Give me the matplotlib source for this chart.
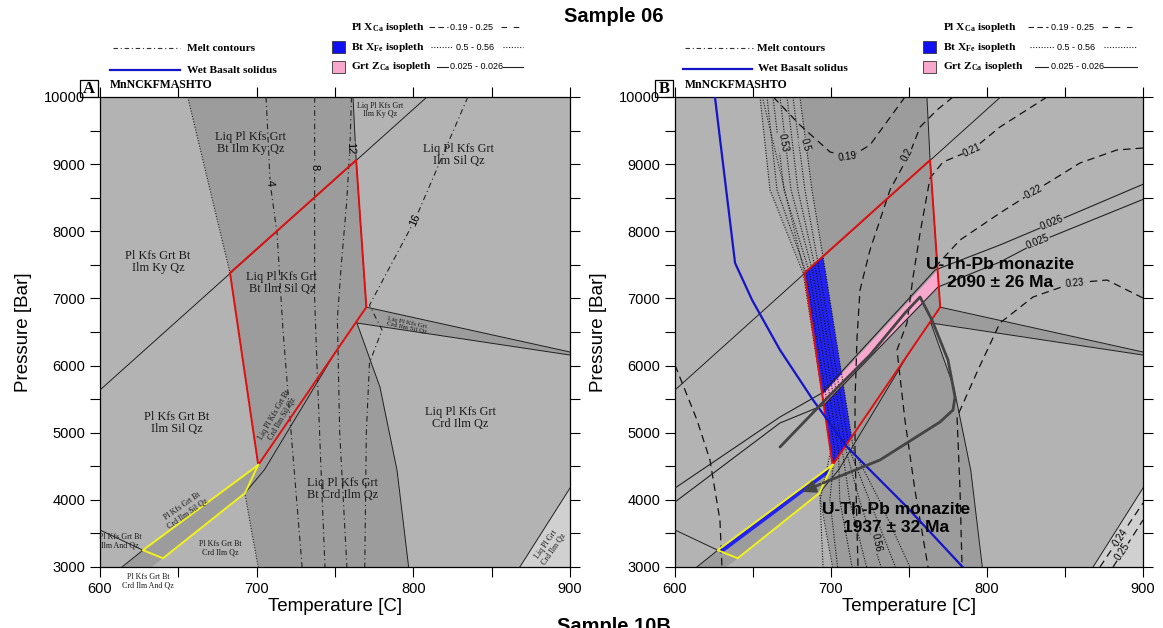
import numpy as np
import matplotlib
matplotlib.use("Agg")
import matplotlib.pyplot as plt
from matplotlib.patches import Rectangle

plt.rcParams['font.family'] = ['Liberation Sans', 'DejaVu Sans']
plt.rcParams['mathtext.fontset'] = 'custom'
plt.rcParams['mathtext.rm'] = 'Liberation Serif:bold'
plt.rcParams['mathtext.it'] = 'Liberation Serif:bold'
plt.rcParams['mathtext.bf'] = 'Liberation Serif:bold'
SERIF = ['Liberation Serif', 'DejaVu Serif']

LIGHT = '#b3b3b3'
DARK = '#9c9c9c'
LIGHTER = '#d0d0d0'
BTBAND = '#a9a9a9'

t_ticks = [600, 700, 800, 900]
p_ticks = [3000, 4000, 5000, 6000, 7000, 8000, 9000, 10000]

# phase boundaries (T in C, P in bar)
solidus_T = [656, 683, 701, 692.5, 697, 701]
solidus_P = [10000, 7380, 4520, 4100, 3506, 3000]
btout_T = [761.5, 763.5, 770]
btout_P = [10000, 9060, 6870]
btout_lo_T = [764, 778.7, 789.6, 797]
btout_lo_P = [6634, 5680, 4440, 3000]
kysil_T = [600, 808.7]
kysil_P = [5636, 10000]
sliver_top_T = [770, 900]
sliver_top_P = [6870, 6202]
sliver_bot_T = [764, 900]
sliver_bot_P = [6634, 6157]
crdout_T = [868, 900]
crdout_P = [3000, 4176]
andsil_T = [600, 627.4, 614]
andsil_P = [3551, 3250, 3000]
crdmelt_T = [692.5, 705, 750]
crdmelt_P = [4100, 4450, 6189]
andcrd_T = [614, 627.4, 640.2, 633]
andcrd_P = [3000, 3250, 3130, 3000]

red_T = [683, 763.5, 770, 701, 683]
red_P = [7380, 9060, 6870, 4520, 7380]
yellow_T = [701, 627.4, 640.2, 692.5, 701]
yellow_P = [4520, 3250, 3130, 4100, 4520]

# melt contours (panel A)
melt_levels = ['4', '8', '12', '16']
melt_T = [[706, 708.6, 713, 716.8, 722, 729],
          [737, 737, 738.5, 741, 743.6],
          [760.5, 759.5, 757.5, 754, 751.5, 753, 757.6],
          [834.8, 801, 772, 780, 772, 770, 769]]
melt_P = [[10000, 8719, 7975, 6530, 5000, 3000],
          [10000, 7000, 6000, 4500, 3000],
          [10000, 9240, 8450, 7500, 6700, 5000, 3000],
          [10000, 8168, 6900, 6530, 6038, 5000, 3000]]
melt_lab_T = [708.5, 737, 759.6, 801]
melt_lab_P = [8719, 8958, 9240, 8168]
melt_lab_rot = [-87, -90, -88, 66]
melt_lab_bg = [DARK, DARK, DARK, LIGHT]

# field labels panel A: text, T, P, size, rotation
fields_A = [
    ('Liq Pl Kfs Grt\nBt Ilm Ky Qz', 696, 9315, 8.8, 0),
    ('Pl Kfs Grt Bt\nIlm Ky Qz', 637, 7540, 8.8, 0),
    ('Liq Pl Kfs Grt\nBt Ilm Sil Qz', 716, 7230, 8.8, 0),
    ('Liq Pl Kfs Grt\nIlm Sil Qz', 829, 9136, 8.8, 0),
    ('Liq Pl Kfs Grt\nIlm Ky Qz', 779, 9806, 5.8, 0),
    ('Liq Pl Kfs Grt\nCrd Ilm Sil Qz', 796, 6609, 5, -12),
    ('Pl Kfs Grt Bt\nIlm Sil Qz', 649, 5144, 8.8, 0),
    ('Liq Pl Kfs Grt Bt\nCrd Ilm Sil Qz', 713.6, 5234, 5.8, 60),
    ('Liq Pl Kfs Grt\nBt Crd Ilm Qz', 755, 4162, 8.8, 0),
    ('Liq Pl Kfs Grt\nCrd Ilm Qz', 830, 5220, 8.8, 0),
    ('Pl Kfs Grt Bt\nCrd Ilm Sil Qz', 654.2, 3849, 5.8, 35),
    ('Pl Kfs Grt Bt\nCrd Ilm Qz', 676.6, 3283, 5.8, 0),
    ('Pl Kfs Grt Bt\nIlm And Qz', 612.8, 3387, 5.8, 0),
    ('Pl Kfs Grt Bt\nCrd Ilm And Qz', 630.6, 2791, 5.8, 0),
    ('Liq Pl Grt\nCrd Ilm Qz', 887.2, 3297, 5.8, 55),
]

# panel B
wet_T = [625.6, 638.5, 649.4, 667.3, 688.5, 710.3, 747.4, 784.4]
wet_P = [10000, 7528, 6977, 6232, 5487, 4787, 3923, 3000]

bt_P = [10000, 8615, 7379, 4742, 4000, 3000]
bt_T = [[654.5, 660.9, 682.1, 700.0, 693.0, 694.9],
        [659.0, 665.4, 684.2, 702.4, 699.3, 704.2],
        [662.8, 669.9, 686.3, 704.8, 705.6, 713.5],
        [667.3, 674.4, 688.5, 707.2, 711.9, 722.8],
        [671.8, 678.8, 690.6, 709.6, 718.2, 732.1],
        [675.6, 683.3, 692.8, 712.0, 724.5, 741.3],
        [680.1, 687.8, 696.6, 714.5, 730.8, 750.6]]
bt_labels = [('0.53', 669.2, 9315, -80, BTBAND),
             ('0.5', 683.3, 9285, -75, BTBAND),
             ('0.56', 729.5, 3357, -78, DARK)]
btband_T = [654.5, 660.9, 683, 694.8, 687.8, 680.1]
btband_P = [10000, 8615, 7380, 7626, 8615, 10000]
blue_T = [683, 694.8, 696.6, 713.2, 701]
blue_P = [7380, 7626, 7379, 4935, 4520]
strip_T = [627.4, 701, 700, 629.5]
strip_P = [3250, 4520, 4420, 3195]

pl_T = [[663, 680.1, 699.4, 712.2, 725.0, 747.4],
        [778.2, 767.9, 757.1, 750.6, 737.8, 725, 718.6, 716.7, 715.4, 715.4, 717.3],
        [838.5, 808.3, 790.4, 771.8, 763.5, 757.1, 752.6, 748.7, 742.3, 747.4, 753.8, 762.2],
        [900, 883.3, 859.6, 829.5, 808.3, 782.7, 767.9],
        [900, 876.9, 855.1, 829.5, 808.3, 794.2, 780.8, 782.7, 784.0],
        [872.4, 900],
        [880.8, 900],
        [600, 606.4, 614.1, 622.4, 628.8, 630.1]]
pl_P = [[10000, 9583, 9181, 9106, 9285, 10000],
        [10000, 9806, 9553, 9166, 8615, 7721, 7126, 6425, 5487, 4742, 3000],
        [10000, 9553, 9211, 9032, 8794, 7974, 7319, 6634, 6232, 5189, 4147, 3000],
        [9240, 9211, 9017, 8585, 8272, 7870, 7498],
        [7006, 7274, 7230, 7021, 6634, 5934, 5234, 4147, 3000],
        [3000, 3953],
        [3000, 3700],
        [6008, 5636, 5189, 4594, 3700, 3000]]
pl_labels = [('0.19', 710.3, 9106, 8, DARK),
             ('0.2', 748.7, 9140, 62, DARK),
             ('0.21', 790.4, 9211, 25, LIGHT),
             ('0.22', 829.5, 8585, 28, LIGHT),
             ('0.23', 856.4, 7230, 5, LIGHT),
             ('0.24', 885.3, 3445, 56, LIGHTER),
             ('0.25', 887.0, 3230, 56, LIGHTER)]

grt_T = [[600, 667.3, 694.2, 766.7, 808.3, 841.7, 900],
         [600, 667.3, 695.5, 768.6, 808.3, 832.7, 900]]
grt_P = [[4176, 5234, 5591, 7423, 7796, 8123, 8700],
         [3968, 5145, 5413, 7170, 7542, 7840, 8475]]
grt_labels = [('0.026', 841.7, 8123, 22), ('0.025', 832.7, 7840, 22)]
pink_T = [694.4, 768.4, 769.1, 695.4]
pink_P = [5562, 7423, 7170, 5413]

path_T = [667.3, 699.4, 725, 747.4, 757.1, 764.7, 775, 779.5, 778.2, 769.9, 731.4, 694.9, 680.1]
path_P = [4787, 5562, 6157, 6783, 7021, 6679, 6083, 5532, 5338, 5160, 4594, 4251, 4102]

ages = [('U-Th-Pb monazite\n2090 ± 26 Ma', 808.3, 7364),
        ('U-Th-Pb monazite\n1937 ± 32 Ma', 742, 3715)]


def draw_fields(ax):
    ax.set_facecolor(LIGHT)
    band_T = solidus_T + btout_lo_T[::-1] + [770, 763.5, 761.5]
    band_P = solidus_P + btout_lo_P[::-1] + [6870, 9060, 10000]
    ax.fill(band_T, band_P, color=DARK, lw=0, zorder=1)
    ax.fill([770, 900, 900, 764], [6870, 6202, 6157, 6634], color=DARK, lw=0, zorder=1)
    ax.fill([868, 900, 900], [3000, 4176, 3000], color=LIGHTER, lw=0, zorder=1)
    ax.fill(yellow_T, yellow_P, color=DARK, lw=0, zorder=1)
    ax.fill(andcrd_T, andcrd_P, color=DARK, lw=0, zorder=1)


def draw_lines(ax):
    kw = dict(color='#202020', lw=0.7, zorder=4)
    for T, P in [(kysil_T, kysil_P), (btout_T, btout_P), (btout_lo_T, btout_lo_P),
                 (sliver_top_T, sliver_top_P), (sliver_bot_T, sliver_bot_P),
                 (crdout_T, crdout_P), (andsil_T, andsil_P), (crdmelt_T, crdmelt_P)]:
        ax.plot(T, P, **kw)
    ax.plot(solidus_T, solidus_P, color='#202020', lw=0.8, ls=(0, (1, 1.5)), zorder=4)


def draw_boxes(ax):
    ax.plot(red_T, red_P, color='#e01010', lw=1.4, zorder=8)
    ax.plot(yellow_T, yellow_P, color='#f2f21a', lw=1.4, zorder=8)


def setup(ax, tag):
    ax.set_xlim(600, 900)
    ax.set_ylim(3000, 10000)
    ax.set_xticks(t_ticks)
    ax.set_xticks([650, 750, 850], minor=True)
    ax.set_yticks(p_ticks)
    ax.set_yticks(np.arange(3500, 10000, 1000), minor=True)
    ax.tick_params(which='both', direction='out', top=True, right=True,
                   length=7, width=0.8, labelsize=10.5)
    ax.set_xlabel('Temperature [C]', fontsize=13.5, labelpad=2)
    ax.set_ylabel('Pressure [Bar]', fontsize=13.5, labelpad=9)
    for s in ax.spines.values():
        s.set_linewidth(0.9)
    ax.add_patch(Rectangle((-0.043, 1.0), 0.039, 0.036, transform=ax.transAxes,
                           fc='white', ec='black', lw=0.9, clip_on=False))
    ax.text(-0.0235, 1.018, tag, transform=ax.transAxes, ha='center', va='center',
            family=SERIF, weight='bold', fontsize=12)
    ax.text(0.021, 1.026, 'MnNCKFMASHTO', transform=ax.transAxes, ha='left', va='center',
            family=SERIF, weight='bold', fontsize=8.5)


def legend(ax, g):
    tr = ax.transAxes
    tkw = dict(transform=tr, family=SERIF, weight='bold', fontsize=8.2, va='center', ha='left')
    ax.plot(g['melt'][0:2], [g['melt'][2]] * 2, transform=tr, clip_on=False, color='#333333',
            lw=0.8, ls=(0, (4, 2.5, 1, 2.5)))
    ax.text(g['melt'][3], g['melt'][2], 'Melt contours', **tkw)
    ax.plot(g['wet'][0:2], [g['wet'][2]] * 2, transform=tr, clip_on=False, color='#1515c8', lw=1.6)
    ax.text(g['wet'][3], g['wet'][2], 'Wet Basalt solidus', **tkw)
    sx, sw, tx = g['sq']
    ax.add_patch(Rectangle((sx, 1.094), sw, 0.026, transform=tr, fc='#1010f0', ec='#333333',
                           lw=0.6, clip_on=False))
    ax.add_patch(Rectangle((sx, 1.051), sw, 0.026, transform=tr, fc='#f7a8cc', ec='#333333',
                           lw=0.6, clip_on=False))
    ax.text(tx, 1.148, r'Pl X$_{\mathrm{Ca}}$ isopleth', **tkw)
    ax.text(tx, 1.106, r'Bt X$_{\mathrm{Fe}}$ isopleth', **tkw)
    ax.text(tx, 1.064, r'Grt Z$_{\mathrm{Ca}}$ isopleth', **tkw)
    a, b, c, d, e = g['samp']
    skw = dict(transform=tr, fontsize=6.5, va='center', ha='left')
    lkw = dict(transform=tr, clip_on=False, color='#222222')
    ax.plot([a, b], [1.148] * 2, lw=0.8, ls=(0, (5, 3)), **lkw)
    ax.text(c, 1.148, '0.19 - 0.25', **skw)
    ax.plot([d, e], [1.148] * 2, lw=0.8, ls=(0, (5, 6)), **lkw)
    ax.plot([a + 0.004, b + 0.012], [1.106] * 2, lw=0.8, ls=(0, (1, 1.5)), **lkw)
    ax.text(c + 0.014, 1.106, '0.5 - 0.56', **skw)
    ax.plot([d + 0.004, e], [1.106] * 2, lw=0.8, ls=(0, (1, 1.5)), **lkw)
    ax.plot([a + 0.016, b], [1.064] * 2, lw=0.8, **lkw)
    ax.text(c, 1.064, '0.025 - 0.026', **skw)
    ax.plot([d + 0.004, e], [1.064] * 2, lw=0.8, **lkw)


def lab(ax, s, T, P, rot, bg, size=7):
    ax.text(T, P, s, rotation=rot, ha='center', va='center', fontsize=size,
            rotation_mode='anchor', zorder=7,
            bbox=dict(boxstyle='square,pad=0.05', fc=bg, ec='none'))


fig = plt.figure(figsize=(11.63, 6.28), dpi=100)
fig.patch.set_facecolor('white')
axA = fig.add_axes([100 / 1163, 1 - 567 / 628, 470 / 1163, 470 / 628])
axB = fig.add_axes([675 / 1163, 1 - 567 / 628, 468 / 1163, 470 / 628])

# ---- panel A
draw_fields(axA)
draw_lines(axA)
for T, P in zip(melt_T, melt_P):
    axA.plot(T, P, color='#222222', lw=0.8, ls=(0, (5, 3, 1, 3)), zorder=5)
for s, T, P, r, bg in zip(melt_levels, melt_lab_T, melt_lab_P, melt_lab_rot, melt_lab_bg):
    lab(axA, s, T, P, r, bg, size=8)
draw_boxes(axA)
for s, T, P, fs, r in fields_A:
    axA.text(T, P, s, ha='center', va='center', fontsize=fs, rotation=r, family=SERIF,
             color='#1a1a1a', linespacing=1.05, zorder=9)
setup(axA, 'A')
legend(axA, dict(melt=(0.028, 0.170, 1.104, 0.185), wet=(0.021, 0.170, 1.057, 0.185),
                 sq=(0.494, 0.027, 0.534), samp=(0.700, 0.740, 0.744, 0.853, 0.900)))

# ---- panel B
draw_fields(axB)
axB.fill(btband_T, btband_P, color=BTBAND, lw=0, zorder=2)
axB.fill(blue_T, blue_P, color='#2222f2', lw=0, zorder=3)
axB.fill(strip_T, strip_P, color='#2222f2', lw=0, zorder=3)
axB.fill(pink_T, pink_P, color='#f7a8cc', lw=0, zorder=3)
draw_lines(axB)
for T in bt_T:
    axB.plot(T, bt_P, color='#111111', lw=0.8, ls=(0, (1, 1.4)), zorder=5)
for s, T, P, r, bg in bt_labels:
    lab(axB, s, T, P, r, bg)
for T, P in zip(pl_T, pl_P):
    axB.plot(T, P, color='#111111', lw=0.9, ls=(0, (6, 4)), zorder=5)
for s, T, P, r, bg in pl_labels:
    lab(axB, s, T, P, r, bg)
for T, P in zip(grt_T, grt_P):
    axB.plot(T, P, color='#222222', lw=0.8, zorder=5)
for s, T, P, r in grt_labels:
    lab(axB, s, T, P, r, LIGHT)
draw_boxes(axB)
axB.plot(wet_T, wet_P, color='#1515c8', lw=1.6, zorder=9)
axB.plot(path_T[:-1], path_P[:-1], color='#444444', lw=2.0, zorder=10,
         solid_joinstyle='round', solid_capstyle='round')
axB.annotate('', xy=(path_T[-1], path_P[-1]), xytext=(path_T[-2], path_P[-2]),
             arrowprops=dict(arrowstyle='-|>', color='#444444', lw=2.0, mutation_scale=18),
             zorder=10)
for s, T, P in ages:
    axB.text(T, P, s, ha='center', va='center', fontsize=12.5, weight='bold',
             linespacing=1.25, zorder=11)
setup(axB, 'B')
legend(axB, dict(melt=(0.021, 0.167, 1.104, 0.175), wet=(0.017, 0.165, 1.060, 0.177),
                 sq=(0.530, 0.028, 0.573), samp=(0.754, 0.798, 0.803, 0.912, 0.987)))

fig.text(0.528, 1 - 17 / 628, 'Sample 06', ha='center', va='center', fontsize=14.5, weight='bold')
fig.text(0.528, 1 - 617 / 628, 'Sample 10B', ha='center', va='top', fontsize=14.5, weight='bold')

fig.savefig('out.png', dpi=100)
